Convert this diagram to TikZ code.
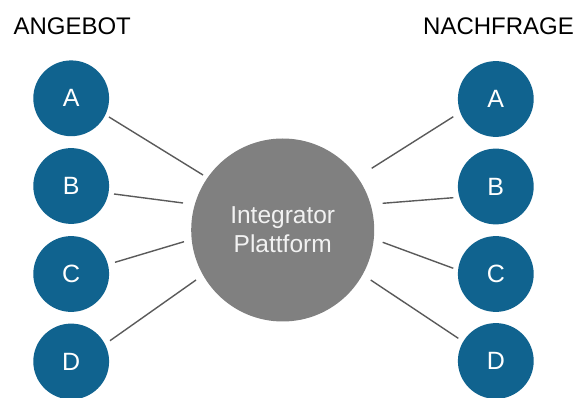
\documentclass[tikz,border=0pt]{standalone}
\usepackage{fontspec}
\setmainfont{Liberation Sans}
\usetikzlibrary{calc}
\definecolor{nodeblue}{HTML}{10638F}
\definecolor{platgray}{HTML}{808080}
\definecolor{linegray}{HTML}{5A5A5A}
\tikzset{
  party/.style={circle, fill=nodeblue, minimum size=75.8pt, inner sep=0pt, outer sep=0pt,
    text=white, font=\fontsize{25}{29}\selectfont},
  platform/.style={circle, fill=platgray, minimum size=183pt, inner sep=0pt, outer sep=0pt,
    text=white!95!black, align=center, font=\fontsize{24.5}{29}\selectfont},
  heading/.style={inner sep=0pt, anchor=base west, font=\fontsize{24}{28}\selectfont},
  link/.style={draw=linegray, line width=1.4pt}
}
\begin{document}
\begin{tikzpicture}[x=1pt, y=-1pt]
\useasboundingbox (0,0) rectangle (579,398);
\node[heading] (hl) at (13.3,35) {ANGEBOT};
\node[heading] (hr) at (423,35) {NACHFRAGE};
\node[platform] (P) at (282.7,230) {\raisebox{-3pt}{Integrator}\\\raisebox{-3pt}{Plattform}};
\node[party] (LA) at (71.2,98.3) {A};
\node[party] (LB) at (71.2,186) {B};
\node[party] (LC) at (71.2,274) {C};
\node[party] (LD) at (71.2,361.5) {D};
\node[party] (RA) at (495.8,99) {A};
\node[party] (RB) at (495.8,186.5) {B};
\node[party] (RC) at (495.8,274) {C};
\node[party] (RD) at (495.8,361) {D};
\draw[link] ($(LA)+(37.8,18.7)$) -- ($(P)+(-79.7,-55)$);
\draw[link] ($(LB)+(42.8,8)$) -- ($(P)+(-99.7,-27)$);
\draw[link] ($(LC)+(43.8,-11.7)$) -- ($(P)+(-98.7,11.7)$);
\draw[link] ($(LD)+(38.8,-20.8)$) -- ($(P)+(-86.7,50)$);
\draw[link] ($(RA)+(-42.5,17.7)$) -- ($(P)+(89,-61.7)$);
\draw[link] ($(RB)+(-42.5,11.2)$) -- ($(P)+(100,-26.7)$);
\draw[link] ($(RC)+(-42.5,-5.7)$) -- ($(P)+(100,12.3)$);
\draw[link] ($(RD)+(-37.5,-22.7)$) -- ($(P)+(88,50)$);
\end{tikzpicture}
\end{document}
